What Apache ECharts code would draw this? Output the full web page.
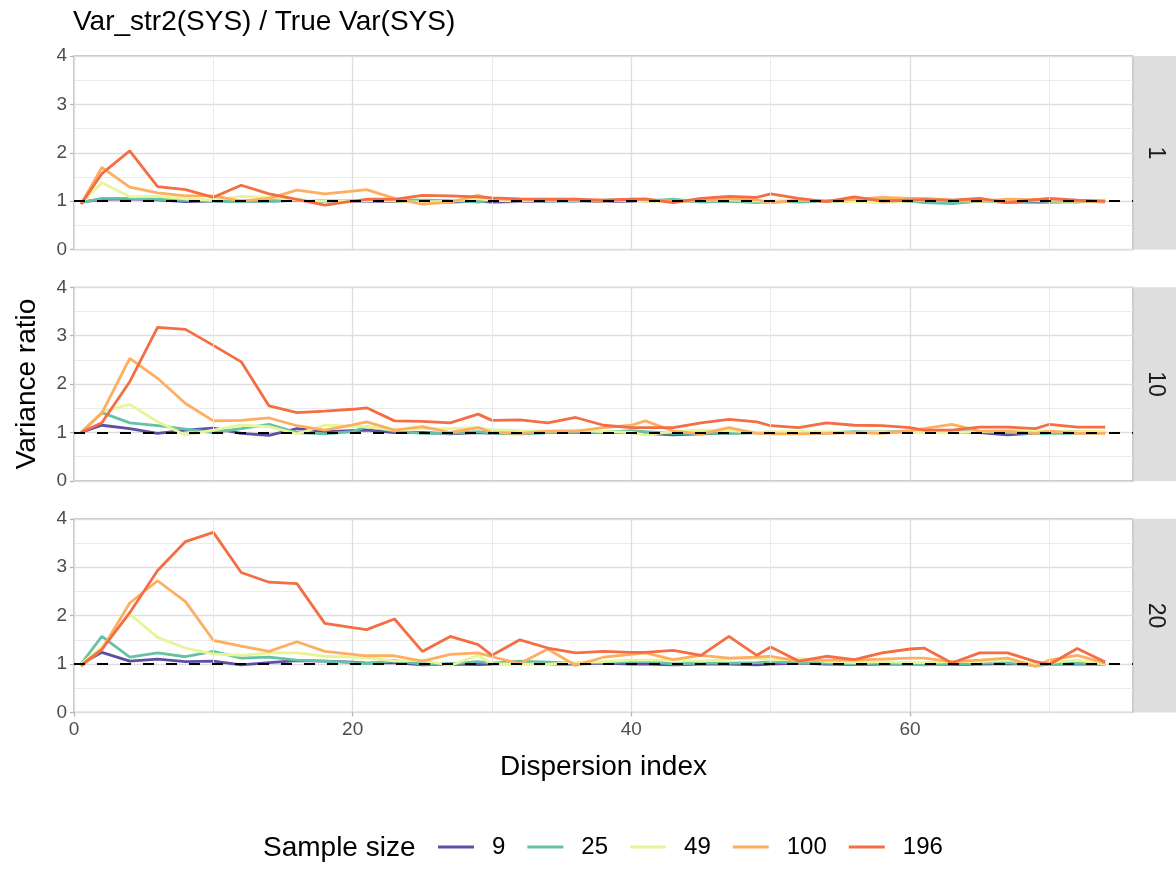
<!DOCTYPE html>
<html><head><meta charset="utf-8">
<script src="https://cdn.jsdelivr.net/npm/echarts@6/dist/echarts.min.js"></script>
<style>html,body{margin:0;padding:0;background:#fff}#c{width:1176px;height:877px}</style>
</head><body><div id="c"></div>
<script>
// ---- data ----
const xValues = [0.5,2,4,6,8,10,12,14,16,18,20,21,23,25,27,29,30,32,34,36,38,40,41,43,45,47,49,50,52,54,56,58,60,61,63,65,67,69,70,72,74];
const sampleSizes = ['9','25','49','100','196'];
const facetLabels = ['1','10','20'];
const xTicks = [0,20,40,60];
const yTicks = [0,1,2,3,4];

// facet "1"
const p1_n9   = [0.98,1.04,1.05,1.03,0.99,1.00,1.00,1.00,1.02,1.00,1.00,1.00,0.99,1.00,0.98,1.00,0.98,0.99,1.00,1.01,0.99,1.00,1.02,0.99,1.00,1.00,0.99,0.98,1.00,1.00,1.00,1.01,0.99,0.99,1.00,1.00,0.98,0.98,0.98,0.99,1.00];
const p1_n25  = [0.97,1.06,1.06,1.04,1.02,1.00,0.99,1.00,1.02,1.00,1.01,1.02,1.03,1.02,1.01,0.98,1.03,1.02,1.00,1.00,1.02,1.03,1.00,1.04,0.98,1.00,0.97,1.00,0.98,1.00,1.01,1.02,1.00,0.97,0.95,1.00,0.98,1.00,1.00,0.98,1.02];
const p1_n49  = [0.95,1.38,1.09,1.10,1.05,1.02,1.10,1.08,1.03,1.00,1.01,1.02,1.00,0.98,1.00,1.05,1.02,1.00,1.02,1.03,1.00,1.02,1.00,0.98,1.02,1.03,1.00,1.00,1.02,1.00,0.99,0.97,1.00,1.02,1.01,1.00,1.00,1.02,1.00,1.00,1.02];
const p1_n100 = [0.94,1.70,1.29,1.17,1.11,1.11,1.00,1.06,1.23,1.15,1.21,1.24,1.06,0.94,0.98,1.12,1.05,1.03,1.02,1.02,1.00,1.04,1.03,1.00,1.02,1.05,1.03,0.97,1.02,1.00,1.04,1.08,1.06,1.06,1.02,1.00,1.04,1.03,1.02,1.00,0.98];
const p1_n196 = [0.94,1.57,2.04,1.30,1.24,1.08,1.33,1.15,1.04,0.92,1.00,1.04,1.04,1.12,1.11,1.09,1.07,1.05,1.04,1.04,1.02,1.04,1.05,0.97,1.06,1.10,1.08,1.15,1.06,0.99,1.09,1.00,1.02,1.03,1.02,1.06,0.97,1.03,1.06,1.02,1.00];
// facet "10"
const p2_n9   = [1.00,1.15,1.08,0.98,1.05,1.09,0.98,0.94,1.08,1.02,1.04,1.05,1.00,1.00,0.97,1.00,0.98,0.99,1.00,1.00,1.00,1.00,0.98,0.95,0.97,0.99,1.00,1.00,0.99,1.00,1.00,1.01,1.02,1.00,1.02,1.00,0.95,0.99,1.00,1.01,1.00];
const p2_n25  = [1.00,1.41,1.20,1.14,1.07,1.00,1.08,1.17,1.00,0.97,1.02,1.12,1.03,0.98,0.98,1.02,0.98,0.97,1.00,1.01,1.00,1.04,1.02,0.98,0.99,0.98,1.00,0.99,1.00,0.99,1.02,1.00,1.02,1.03,1.01,1.02,1.00,0.98,0.99,0.98,1.00];
const p2_n49  = [1.00,1.43,1.58,1.22,0.95,1.05,1.15,1.12,0.97,1.15,1.13,1.12,1.05,1.08,1.08,1.10,1.06,1.04,1.03,1.05,1.02,1.00,0.95,1.02,1.05,1.04,1.00,1.02,1.02,1.02,1.00,1.02,1.00,1.00,1.00,1.02,1.04,1.03,1.03,1.02,1.03];
const p2_n100 = [1.00,1.40,2.53,2.12,1.60,1.24,1.25,1.30,1.14,1.05,1.16,1.22,1.05,1.12,1.00,1.10,1.00,0.98,1.03,1.03,1.10,1.15,1.24,1.03,0.97,1.10,0.98,0.97,0.97,0.98,1.00,0.98,1.04,1.08,1.17,1.03,1.03,0.98,1.03,0.98,0.98];
const p2_n196 = [1.00,1.20,2.05,3.17,3.13,2.80,2.46,1.55,1.41,1.44,1.48,1.51,1.24,1.23,1.20,1.38,1.25,1.26,1.20,1.31,1.15,1.10,1.10,1.10,1.20,1.27,1.22,1.14,1.10,1.20,1.15,1.14,1.10,1.05,1.05,1.11,1.11,1.08,1.17,1.11,1.11];
// facet "20"
const p3_n9   = [1.00,1.24,1.06,1.10,1.05,1.06,0.98,1.03,1.07,1.06,1.04,1.02,1.03,0.98,1.00,0.99,1.00,1.02,1.00,1.00,1.02,1.00,1.00,0.98,1.00,1.00,0.98,1.00,1.02,1.00,0.99,1.00,1.00,1.00,0.99,1.00,1.01,1.00,1.00,1.00,1.00];
const p3_n25  = [1.00,1.57,1.14,1.23,1.15,1.26,1.12,1.14,1.08,1.06,1.03,1.01,1.07,1.00,1.00,1.05,1.02,1.06,1.04,1.02,1.03,1.05,1.06,1.00,1.02,1.02,1.03,1.05,1.02,1.02,1.00,1.02,1.00,0.98,1.00,1.02,1.03,0.96,1.00,1.02,1.00];
const p3_n49  = [1.00,1.35,2.03,1.55,1.33,1.21,1.18,1.23,1.23,1.16,1.14,1.13,1.06,1.08,0.97,1.18,1.00,1.00,0.99,1.04,1.05,1.08,1.08,1.08,1.06,1.10,1.12,1.08,1.12,1.05,1.03,1.05,1.03,1.03,1.05,1.05,1.08,1.00,1.03,1.08,1.00];
const p3_n100 = [0.95,1.30,2.26,2.72,2.29,1.49,1.37,1.26,1.46,1.26,1.20,1.17,1.17,1.06,1.20,1.23,1.15,1.01,1.31,0.97,1.14,1.20,1.23,1.09,1.18,1.12,1.14,1.16,1.06,1.08,1.08,1.10,1.12,1.12,1.05,1.08,1.12,0.95,1.08,1.18,1.02];
const p3_n196 = [0.97,1.30,2.06,2.93,3.53,3.72,2.89,2.69,2.66,1.84,1.75,1.71,1.93,1.26,1.57,1.40,1.18,1.50,1.33,1.23,1.26,1.24,1.24,1.28,1.18,1.57,1.18,1.35,1.06,1.16,1.09,1.23,1.31,1.33,1.02,1.23,1.23,1.05,0.99,1.32,1.04];

const panels = [
  [p1_n9, p1_n25, p1_n49, p1_n100, p1_n196],
  [p2_n9, p2_n25, p2_n49, p2_n100, p2_n196],
  [p3_n9, p3_n25, p3_n49, p3_n100, p3_n196]
];
const minorX = [10,30,50,70];
const refLine = 1;

// ---- style / layout ----
const colors = ['#5E4FA2','#66C2A5','#E6F598','#FDAE61','#F46D43'];
const FONT = "'Liberation Sans', Arial, Helvetica, sans-serif";
const L = 74, R = 1133, W = R - L;
const tops = [56, 287.3, 518.8];
const H = 193.6;
const stripX = 1134, stripW = 42;

const grids = [], xAxes = [], yAxes = [], series = [], graphics = [];
tops.forEach((t, i) => {
  grids.push({left: L, top: t, width: W, height: H, show: true, borderColor: '#b3b3b3', borderWidth: 1.3, backgroundColor: '#fff', containLabel: false});
  xAxes.push({
    type: 'value', gridIndex: i, min: 0, max: 76, interval: 20,
    axisLine: {show: false},
    axisTick: {show: i === 2, length: 4, customValues: xTicks, lineStyle: {color: '#b3b3b3', width: 1.3}},
    axisLabel: {show: i === 2, margin: 8, color: '#4d4d4d', fontSize: 19, fontFamily: FONT, customValues: xTicks,
      formatter: v => String(v)},
    splitLine: {show: true, lineStyle: {color: '#dedede', width: 1.3}}
  });
  yAxes.push({
    type: 'value', gridIndex: i, min: 0, max: 4, interval: 1,
    axisLine: {show: false},
    axisTick: {show: true, length: 4, lineStyle: {color: '#b3b3b3', width: 1.3}},
    axisLabel: {show: true, margin: 7, color: '#4d4d4d', fontSize: 19, fontFamily: FONT,
      formatter: v => yTicks.includes(v) ? String(v) : ''},
    splitLine: {show: true, lineStyle: {color: '#dedede', width: 1.3}},
    minorTick: {show: false, splitNumber: 2},
    minorSplitLine: {show: true, lineStyle: {color: '#e8e8e8', width: 0.9}}
  });
  // minor vertical grid lines
  series.push({
    type: 'line', xAxisIndex: i, yAxisIndex: i, data: [], z: 1, silent: true,
    markLine: {silent: true, symbol: ['none','none'], label: {show: false}, animation: false,
      lineStyle: {color: '#e8e8e8', width: 0.9, type: 'solid'},
      data: minorX.map(v => ({xAxis: v}))}
  });
  panels[i].forEach((vals, j) => {
    series.push({
      type: 'line', name: sampleSizes[j], xAxisIndex: i, yAxisIndex: i,
      data: xValues.map((x, k) => [x, vals[k]]),
      symbol: 'none', z: 3, animation: false,
      lineStyle: {color: colors[j], width: 2.8},
      itemStyle: {color: colors[j]},
      emphasis: {disabled: true}
    });
  });
  // dashed reference line
  series.push({
    type: 'line', xAxisIndex: i, yAxisIndex: i, data: [], z: 5, silent: true,
    markLine: {silent: true, symbol: ['none','none'], label: {show: false}, animation: false,
      lineStyle: {color: '#000', width: 2.2, type: [11, 12]},
      data: [{yAxis: refLine}]}
  });
  // strip
  graphics.push({type: 'rect', shape: {x: stripX, y: t, width: stripW, height: H}, style: {fill: '#dedede'}, z: 0});
  graphics.push({type: 'text', x: stripX + stripW / 2, y: t + H / 2, rotation: -Math.PI / 2,
    style: {text: facetLabels[i], fill: '#1a1a1a', font: '23px ' + FONT, textAlign: 'center', textVerticalAlign: 'middle'}});
});

graphics.push({type: 'text', x: 73, y: 22, style: {text: 'Var_str2(SYS) / True Var(SYS)', fill: '#000', font: '28px ' + FONT, textAlign: 'left', textVerticalAlign: 'middle'}});
graphics.push({type: 'text', x: (L + R) / 2, y: 767, style: {text: 'Dispersion index', fill: '#000', font: '28px ' + FONT, textAlign: 'center', textVerticalAlign: 'middle'}});
graphics.push({type: 'text', x: 27, y: 384, rotation: Math.PI / 2, style: {text: 'Variance ratio', fill: '#000', font: '28px ' + FONT, textAlign: 'center', textVerticalAlign: 'middle'}});
graphics.push({type: 'text', x: 263, y: 848, style: {text: 'Sample size', fill: '#000', font: '28px ' + FONT, textAlign: 'left', textVerticalAlign: 'middle'}});

const chart = echarts.init(document.getElementById('c'), null, {renderer: 'canvas'});
chart.setOption({
  animation: false,
  backgroundColor: '#fff',
  grid: grids, xAxis: xAxes, yAxis: yAxes, series: series,
  legend: {
    data: sampleSizes, left: 433, top: 830, icon: 'rect', itemWidth: 36, itemHeight: 3, itemGap: 22,
    selectedMode: false,
    textStyle: {fontSize: 24, color: '#000', fontFamily: FONT, padding: [0, 0, 0, 13]}
  },
  graphic: graphics
});
</script></body></html>
